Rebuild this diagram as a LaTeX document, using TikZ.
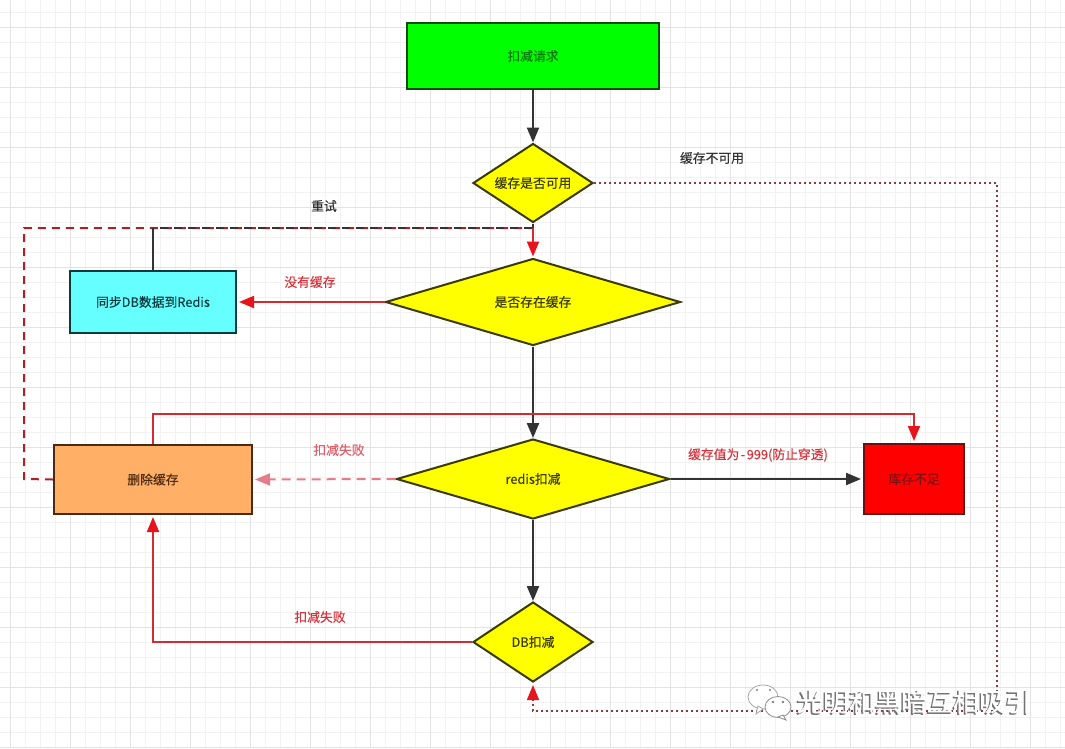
\documentclass[tikz,border=0pt]{standalone}
\usepackage{fontspec}
\setmainfont[FakeBold=0.25]{Noto Sans CJK SC}
\usetikzlibrary{shapes.geometric,arrows.meta,calc}
\definecolor{ink}{HTML}{333333}
\definecolor{redline}{HTML}{D42A32}
\definecolor{redhead}{HTML}{E8141C}
\definecolor{dotline}{HTML}{8C3A3E}
\definecolor{paleline}{HTML}{E57C88}
\definecolor{labred}{HTML}{D8333C}
\definecolor{labpale}{HTML}{E0606A}
\definecolor{pureyellow}{HTML}{FFFF00}
\definecolor{darkolive}{HTML}{3A3A0A}
\definecolor{puregreen}{HTML}{00FF00}
\definecolor{greenedge}{HTML}{0A4A0A}
\definecolor{greentext}{HTML}{0A7A0A}
\definecolor{cyanfill}{HTML}{66FFFF}
\definecolor{cyanedge}{HTML}{0F3A3D}
\definecolor{orangefill}{HTML}{FFB066}
\definecolor{orangeedge}{HTML}{4A2A10}
\definecolor{purered}{HTML}{FF0000}
\definecolor{rededge}{HTML}{6A1010}
\definecolor{redtext}{HTML}{7A1414}
\tikzset{
  x=1pt,y=-1pt,
  boxnode/.style={draw,line width=2pt,rectangle,inner sep=0pt,font=\fontsize{12.8}{15}\selectfont},
  decision/.style={draw=darkolive,fill=pureyellow,line width=2pt,diamond,inner sep=0pt,aspect=1.5,font=\fontsize{12.8}{15}\selectfont,text=darkolive},
  lab/.style={font=\fontsize{12.8}{15}\selectfont,inner sep=0pt},
  tip/.style={-{Triangle[length=15pt,width=12pt]}},
  blackflow/.style={draw=ink,line width=2.2pt,tip},
  redflow/.style={draw=redline,line width=2pt,-{Triangle[length=15pt,width=12pt,color=redhead]}},
  retryflow/.style={draw=redline!80!black,line width=2pt,dash pattern=on 8pt off 6pt},
}
\begin{document}
\begin{tikzpicture}
\useasboundingbox (0,0) rectangle (1065,748);
\fill[white] (0,0) rectangle (1065,748);
% grid
\foreach \gx in {10,25,...,1060} \draw[black!5,line width=.7pt] (\gx,0)--(\gx,748);
\foreach \gy in {12,27,...,747} \draw[black!5,line width=.7pt] (0,\gy)--(1065,\gy);
\foreach \gx in {10,70,...,1060} \draw[black!11,line width=.8pt] (\gx,0)--(\gx,748);
\foreach \gy in {27,87,...,747} \draw[black!11,line width=.8pt] (0,\gy)--(1065,\gy);
% nodes
\node[boxnode,draw=greenedge,fill=puregreen,text=greentext,minimum width=252pt,minimum height=66pt] (req) at (533,56) {扣减请求};
\node[decision,minimum width=120pt,minimum height=79pt] (avail) at (533,183) {缓存是否可用};
\node[decision,minimum width=295pt,minimum height=87pt] (exist) at (533,302) {是否存在缓存};
\node[boxnode,draw=cyanedge,fill=cyanfill,text=cyanedge,minimum width=166pt,minimum height=62pt] (sync) at (153,302) {同步DB数据到Redis};
\node[decision,minimum width=273pt,minimum height=80pt] (redisdec) at (533,479) {redis扣减};
\node[boxnode,draw=orangeedge,fill=orangefill,text=orangeedge,minimum width=198pt,minimum height=69pt] (del) at (153,479.5) {删除缓存};
\node[boxnode,draw=rededge,fill=purered,text=redtext,minimum width=100pt,minimum height=70pt] (lack) at (914,479) {库存不足};
\node[decision,minimum width=120pt,minimum height=80pt] (dbdec) at (533,642) {DB扣减};
\coordinate (jn) at (533,228);
\coordinate (jsync) at (153,228);
\coordinate (retryw) at (24,228);
\coordinate (retrys) at (24,479);
\coordinate (dotne) at (997,183);
\coordinate (dotse) at (997,711);
\coordinate (dotsw) at (533,711);
\coordinate (topl) at (153,414);
\coordinate (topr) at (914,414);
\coordinate (botl) at (153,642);
% connectors
\draw[blackflow] (req) -- (avail);
\draw[draw=dotline,line width=1.8pt,dash pattern=on 1.8pt off 3.2pt] (avail.east) -- (dotne) -- (dotse) -- (dotsw) -- ($(dbdec.south)+(0,14)$);
\draw[draw=dotline,line width=1.6pt,-{Triangle[length=15pt,width=12pt,color=redhead]}] ($(dbdec.south)+(0,16)$) -- ($(dbdec.south)+(0,2)$);
\draw[retryflow] (del.west) -- (retrys) -- (retryw) -- (jn);
\draw[draw=ink,line width=2pt] (sync.north) -- (jsync);
\draw[draw=ink,line width=1.6pt,dash pattern=on 8pt off 6pt,dash phase=7pt] (jsync) -- (jn);
\draw[draw=ink,line width=2pt] (avail.south) -- (jn);
\draw[redflow] (jn) -- ($(exist.north)+(0,-1)$);
\draw[redflow] (exist.west) -- ($(sync.east)+(2,0)$);
\draw[blackflow] (exist) -- (redisdec);
\draw[draw=paleline,line width=2pt,dash pattern=on 9pt off 6pt,-{Triangle[length=15pt,width=12pt,color=paleline]}] (redisdec.west) -- ($(del.east)+(2,0)$);
\draw[blackflow] (redisdec.east) -- ($(lack.west)+(-2,0)$);
\draw[redflow] (del.north) -- (topl) -- (topr) -- ($(lack.north)+(0,-2)$);
\draw[blackflow] (redisdec) -- (dbdec);
\draw[redflow] (dbdec.west) -- (botl) -- ($(del.south)+(0,2)$);
% labels
\node[lab,text=ink] (l1) at (712,158) {缓存不可用};
\node[lab,text=ink] (l2) at (324,206) {重试};
\node[lab,text=labred] (l3) at (310,282) {没有缓存};
\node[lab,text=labpale] (l4) at (339,450) {扣减失败};
\node[lab,text=labred] (l5) at (758,455) {缓存值为\kern1.5pt-\kern1.5pt999(防止穿透)};
\node[lab,text=labred] (l6) at (320,617) {扣减失败};
% watermark
\node[inner sep=0pt,font=\fontsize{26}{30}\selectfont,text=black!55] (wms) at (912.5,703) {光明和黑暗互相吸引};
\node[inner sep=0pt,font=\fontsize{26}{30}\selectfont,text=white] (wm) at (914,701.5) {光明和黑暗互相吸引};
\fill[white,draw=black!35,line width=.8pt] (763,697) ellipse (15pt and 12pt);
\fill[white,draw=black!35,line width=.8pt] (756,714) -- (758,706) -- (763,709) -- cycle;
\fill[white,draw=black!45,line width=.8pt] (778,707) ellipse (13pt and 10.5pt);
\fill[white,draw=black!45,line width=.8pt] (783,715) -- (786,720) -- (778,717) -- cycle;
\fill[black!50] (773,702) circle (1.3pt) (783,702) circle (1.3pt);
\fill[black!50] (757,690) circle (1.2pt) (770,690) circle (1.2pt);
\end{tikzpicture}
\end{document}
